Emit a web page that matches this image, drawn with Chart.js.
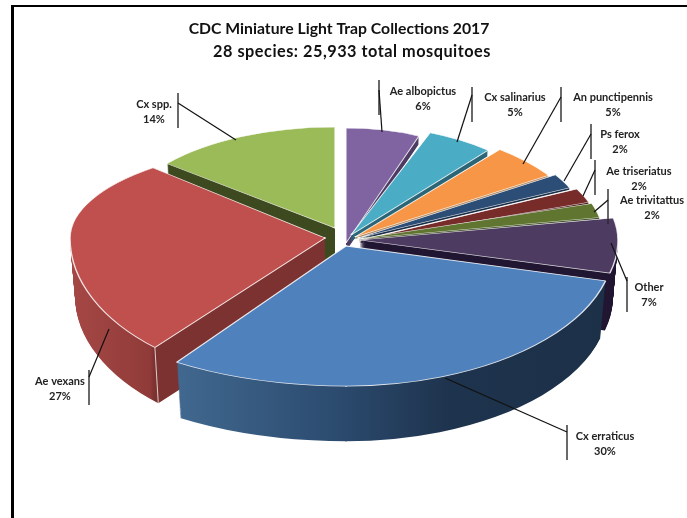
<!DOCTYPE html>
<html>
<head>
<meta charset="utf-8">
<script src="https://cdn.jsdelivr.net/npm/chart.js@4"></script>
<style>html,body{margin:0;padding:0;background:#fff}canvas{display:block}</style>
</head>
<body>
<canvas id="c" width="687" height="518"></canvas>
<script>
const categories = ['Ae albopictus','Cx salinarius','An punctipennis','Ps ferox','Ae triseriatus','Ae trivitattus','Other','Cx erraticus','Ae vexans','Cx spp.'];
const values = [6,5,5,2,2,2,7,30.4,26.6,14];
const titleLines = ['CDC Miniature Light Trap Collections 2017','28 species: 25,933 total mosquitoes'];

const topColors = ['#8064A2','#4BACC6','#F79646','#2C4D75','#772C2A','#5F7530','#4D3B62','#4F81BD','#C0504D','#9BBB59'];
const sideColors = ['#4D3B62','#2C6677','#B58A60','#1B2F48','#4A1B1A','#3A481D','#221733','#1C3048','#7C3230','#3E4A20'];
// side shading by screen x, for the two slices whose rim faces the viewer
const sideStops = {
  7: [[178,'#41688F'],[340,'#2B4A6E'],[450,'#1E334D'],[610,'#1C3048']],
  8: [[70,'#A64845'],[150,'#903B39'],[154,'#7C3230'],[330,'#7C3230']]
};
// per-slice projection: apex x,y; radius left,right,up,down; turn (deg)
const projection = [
  [346,243,198,198,115,115,0],
  [351,235,215,215,110,110,0],
  [355,237,232,232,112,112,-1],
  [358,238,234,234,118,118,0],
  [358,241,245,245,116,116,-1.5],
  [358,239,246,246,115,115,0],
  [360,240,258,258,118,133,0],
  [346,246,304,268,138,140,0],
  [325,238,255,255,95,147,8],
  [335,228,218,218,101,101,0]
];
const sliceDepth = [8,6,2,2,2,2,58,58,58,58];
const paintOrder = [9,0,1,2,3,4,5,6,8,7];
const depthRef = 58, depthShrink = 0.02;
// title: centre x, middle y, font size, letter spacing
const titleLayout = [[339,29,15.75,0],[352,52,16.3,0.5]];
// label centre x, first line y
const labelPos = [[423,91],[515,97],[613,97],[620,134],[639,171],[652,200],[649,287],[605,436],[60,381],[154,104]];
// bar x, bar top, bar bottom, elbow y, rim x, rim y
const leaders = [
  [379,80,115,90,382,132],[472,87,122,95,457,142],[561,87,122,97,523,164],[591,124,159,134,564,181],
  [595,160,195,170,583,196],[608,189,224,200,594,212],[627,277,312,281,611,243],[567,425,460,432,445,378],
  [89,370,405,377,109,329],[178,93,128,103,236,140]
];
const labelFont = 'bold 11px Lato';

function drawArcProjected(ctx, arc, i, d, fill, borderW){
  const [ax,ay,rxL,rxR,ryT,ryB,turn] = projection[i];
  const R = arc.outerRadius, k = 1 - depthShrink*d/depthRef, phi = turn*Math.PI/180;
  const saved = arc.options;
  const quads = [[-1,-1],[1,-1],[-1,1],[1,1]];
  for (const [qx,qy] of quads){
    const sx = (qx<0?rxL:rxR)*k/R, sy = (qy<0?ryT:ryB)*k/R;
    ctx.save();
    ctx.translate(ax,ay+d);
    ctx.beginPath();
    ctx.rect(qx<0?-1000:-1, qy<0?-1000:-1, 1001, 1001);
    ctx.clip();
    ctx.scale(sx,sy);
    ctx.rotate(phi);
    ctx.translate(-arc.x,-arc.y);
    let bg = fill;
    if (Array.isArray(fill)){
      const c=Math.cos(phi), s=Math.sin(phi);
      const t0=(fill[0][0]-ax)/sx, t1=(fill[fill.length-1][0]-ax)/sx;
      bg = ctx.createLinearGradient(arc.x+c*t0,arc.y-s*t0,arc.x+c*t1,arc.y-s*t1);
      for (const [x,col] of fill) bg.addColorStop((x-fill[0][0])/(fill[fill.length-1][0]-fill[0][0]),col);
    }
    const o = Object.create(saved);
    o.backgroundColor = bg;
    o.borderColor = 'rgba(255,255,255,0.85)';
    o.borderWidth = borderW;
    o.offset = 0; o.spacing = 0;
    arc.options = o;
    arc.draw(ctx);
    arc.options = saved;
    ctx.restore();
  }
}
function rimPoint(arc,i,angle,d){
  const [ax,ay,rxL,rxR,ryT,ryB,turn] = projection[i];
  const a = angle + turn*Math.PI/180, k = 1-depthShrink*d/depthRef;
  const x=Math.cos(a), y=Math.sin(a);
  return [ax + x*(x<0?rxL:rxR)*k, ay + d + y*(y<0?ryT:ryB)*k];
}

const pie3d = {
  id:'pie3d',
  beforeDraw(chart){
    const ctx = chart.ctx;
    ctx.save();
    ctx.fillStyle='#fff'; ctx.fillRect(0,0,chart.width,chart.height);
    ctx.fillStyle='#000';
    ctx.fillRect(11,5,chart.width-11,2);
    ctx.fillRect(11,5,3,chart.height-5);
    ctx.restore();
  },
  beforeDatasetsDraw(chart){
    const ctx = chart.ctx, arcs = chart.getDatasetMeta(0).data;
    for (const i of paintOrder){
      const arc = arcs[i];
      for (let d=sliceDepth[i]; d>=1; d--) drawArcProjected(ctx,arc,i,d,sideStops[i]||sideColors[i],0);
      if (i===8){
        const p0=rimPoint(arc,i,arc.startAngle,0), p1=rimPoint(arc,i,arc.startAngle,sliceDepth[i]);
        ctx.save(); ctx.strokeStyle='rgba(255,255,255,0.75)'; ctx.lineWidth=1;
        ctx.beginPath(); ctx.moveTo(p0[0],p0[1]); ctx.lineTo(p1[0],p1[1]); ctx.stroke(); ctx.restore();
      }
      drawArcProjected(ctx,arc,i,0,topColors[i],1.3);
    }
    return false;
  },
  afterDraw(chart){
    const ctx = chart.ctx, total = values.reduce((a,b)=>a+b,0);
    ctx.save();
    ctx.textAlign='center'; ctx.textBaseline='middle';
    titleLines.forEach((line,i)=>{
      const [x,y,size,spacing] = titleLayout[i];
      ctx.fillStyle='#111'; ctx.font='bold '+size+'px Lato';
      ctx.letterSpacing=spacing+'px';
      ctx.fillText(line,x,y);
    });
    ctx.letterSpacing='0px';
    categories.forEach((name,i)=>{
      const [bx,bt,bb,ey,rx,ry] = leaders[i];
      ctx.strokeStyle='#2a2a2a'; ctx.lineWidth=1.4;
      ctx.beginPath(); ctx.moveTo(bx,bt); ctx.lineTo(bx,bb); ctx.stroke();
      ctx.strokeStyle='#111'; ctx.lineWidth=1.2;
      ctx.beginPath(); ctx.moveTo(bx,ey); ctx.lineTo(rx,ry); ctx.stroke();
      ctx.fillStyle='#222'; ctx.font=labelFont;
      ctx.fillText(name,labelPos[i][0],labelPos[i][1]);
      ctx.fillText(Math.round(values[i]/total*100)+'%',labelPos[i][0],labelPos[i][1]+15);
    });
    ctx.restore();
  }
};

new Chart(document.getElementById('c'),{
  type:'pie',
  data:{labels:categories,datasets:[{data:values,backgroundColor:topColors,borderColor:'#fff',borderWidth:1}]},
  options:{
    responsive:false,animation:false,
    layout:{padding:{top:60,right:9}},
    plugins:{legend:{display:false},tooltip:{enabled:false},title:{display:false}}
  },
  plugins:[pie3d]
});
</script>
</body>
</html>
